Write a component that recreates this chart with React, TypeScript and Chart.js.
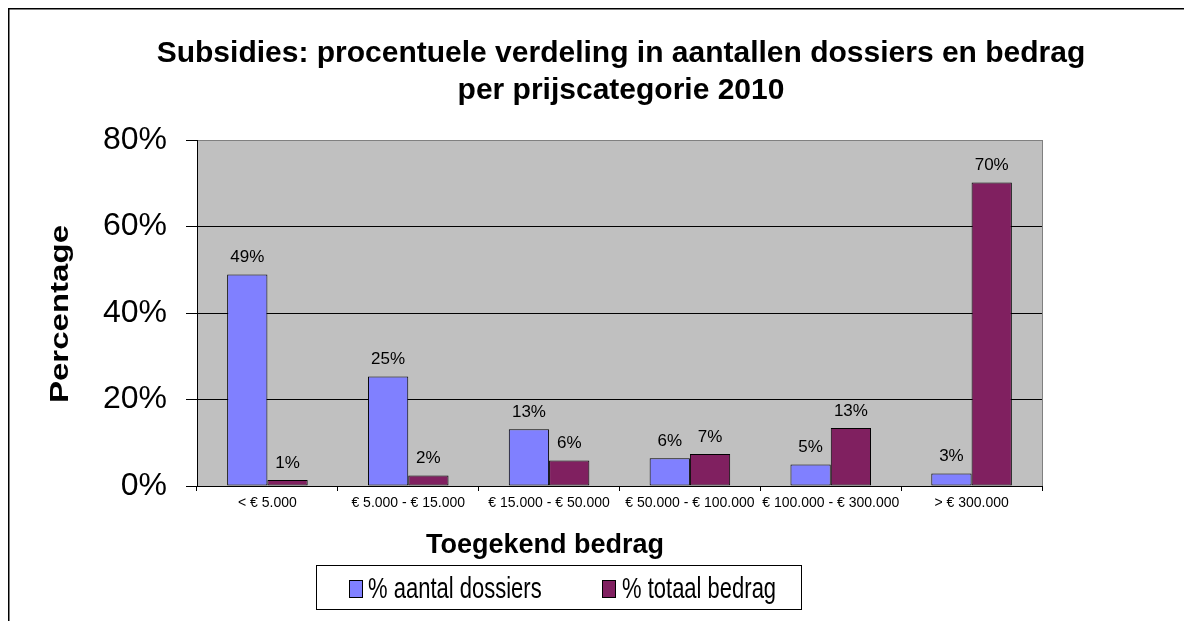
import React, { useEffect, useRef } from "react";
import { Chart, registerables } from "chart.js";

Chart.register(...registerables);

const categories = ["< € 5.000", "€ 5.000 - € 15.000", "€ 15.000 - € 50.000", "€ 50.000 - € 100.000", "€ 100.000 - € 300.000", "> € 300.000"];
const aantalDossiers = [48.9, 25.3, 13.1, 6.4, 5.0, 2.9];
const totaalBedrag = [1.4, 2.4, 5.9, 7.4, 13.4, 70.2];
const seriesNames = ["% aantal dossiers", "% totaal bedrag"];
const titleLines = ["Subsidies: procentuele verdeling in aantallen dossiers en bedrag", "per prijscategorie 2010"];
const xTitle = "Toegekend bedrag";
const yTitle = "Percentage";

const FONT = "'Liberation Sans', Arial, sans-serif";
const BLUE = "#8080FF";
const PURPLE = "#802060";

const decorPlugin = {
  id: "decor",
  beforeDraw(chart: any) {
    const { ctx, chartArea: a } = chart;
    ctx.save();
    ctx.fillStyle = "#fff";
    ctx.fillRect(0, 0, chart.width, chart.height);
    ctx.strokeStyle = "#000";
    ctx.lineWidth = 1.5;
    ctx.beginPath();
    ctx.moveTo(0.75, chart.height);
    ctx.lineTo(0.75, 0.75);
    ctx.lineTo(chart.width, 0.75);
    ctx.stroke();
    ctx.fillStyle = "#C0C0C0";
    ctx.fillRect(a.left, a.top, a.right - a.left, a.bottom - a.top);
    ctx.strokeStyle = "#808080";
    ctx.lineWidth = 1;
    ctx.strokeRect(a.left + 0.5, a.top + 0.5, a.right - a.left, a.bottom - a.top);
    ctx.restore();
  },
  afterDatasetsDraw(chart: any) {
    const { ctx } = chart;
    ctx.save();
    ctx.fillStyle = "#000";
    ctx.font = `17px ${FONT}`;
    ctx.textAlign = "center";
    ctx.textBaseline = "middle";
    chart.data.datasets.forEach((ds: any, i: number) => {
      const meta = chart.getDatasetMeta(i);
      meta.data.forEach((bar: any, j: number) => {
        ctx.fillText(Math.round(ds.data[j]) + "%", bar.x, bar.y - 17);
      });
    });
    ctx.restore();
  },
  afterDraw(chart: any) {
    const { ctx } = chart;
    ctx.save();
    ctx.fillStyle = "#000";
    ctx.font = `bold 30px ${FONT}`;
    ctx.textAlign = "center";
    ctx.textBaseline = "middle";
    ctx.fillText(titleLines[0], 613, 46);
    ctx.fillText(titleLines[1], 613, 83);
    ctx.font = `bold 27px ${FONT}`;
    ctx.textBaseline = "alphabetic";
    ctx.save();
    ctx.translate(537, 545);
    ctx.scale(1, 1.05);
    ctx.fillText(xTitle, 0, 0);
    ctx.restore();
    ctx.save();
    ctx.translate(60, 306);
    ctx.rotate(-Math.PI / 2);
    ctx.scale(1.27, 1);
    ctx.font = `bold 26px ${FONT}`;
    ctx.textAlign = "center";
    ctx.textBaseline = "alphabetic";
    ctx.fillText(yTitle, 0, 0);
    ctx.restore();
    ctx.fillStyle = "#fff";
    ctx.fillRect(308, 557, 485, 44);
    ctx.strokeStyle = "#000";
    ctx.lineWidth = 1;
    ctx.strokeRect(308.5, 557.5, 485, 44);
    const keys = [
      { x: 341, tx: 360, color: BLUE, name: seriesNames[0] },
      { x: 594, tx: 614, color: PURPLE, name: seriesNames[1] },
    ];
    ctx.font = `22px ${FONT}`;
    ctx.textAlign = "left";
    keys.forEach((k) => {
      ctx.fillStyle = k.color;
      ctx.fillRect(k.x, 572, 13, 17);
      ctx.strokeStyle = "#000";
      ctx.strokeRect(k.x + 0.5, 572.5, 13, 17);
      ctx.fillStyle = "#000";
      ctx.save();
      ctx.translate(k.tx, 590);
      ctx.scale(1, 1.3);
      ctx.fillText(k.name, 0, 0);
      ctx.restore();
    });
    ctx.restore();
  },
};

export default function App() {
  const ref = useRef<HTMLCanvasElement>(null);
  useEffect(() => {
    if (!ref.current) return;
    const chart = new Chart(ref.current, {
      type: "bar",
      data: {
        labels: categories,
        datasets: [
          { label: seriesNames[0], data: aantalDossiers, backgroundColor: BLUE, borderColor: "#000", borderWidth: 1, borderSkipped: false },
          { label: seriesNames[1], data: totaalBedrag, backgroundColor: PURPLE, borderColor: "#000", borderWidth: 1, borderSkipped: false },
        ],
      },
      options: {
        animation: false,
        responsive: false,
        maintainAspectRatio: false,
        layout: { padding: { top: 132, right: 150, left: 0, bottom: 0 } },
        plugins: { legend: { display: false }, title: { display: false }, tooltip: { enabled: false } },
        datasets: { bar: { categoryPercentage: 0.572, barPercentage: 1 } },
        scales: {
          x: {
            afterFit: (s: any) => { s.height = 135; },
            grid: { drawOnChartArea: false, drawTicks: true, tickLength: 5, color: "#000", offset: true },
            border: { display: true, color: "#000", width: 1 },
            ticks: { color: "#000", font: { family: FONT, size: 14 }, padding: 4, autoSkip: false, maxRotation: 0, minRotation: 0 },
          },
          y: {
            min: 0,
            max: 80,
            afterFit: (s: any) => { s.width = 189; },
            grid: {
              color: (c: any) => (c.tick && (c.tick.value === 80 || c.tick.value === 0) ? "rgba(0,0,0,0)" : "#000"),
              tickColor: "#000",
              tickLength: 11,
              lineWidth: 1,
            },
            border: { display: true, color: "#000", width: 1 },
            ticks: { stepSize: 20, color: "#000", font: { family: FONT, size: 32 }, padding: 19, callback: (v: any) => v + "%" },
          },
        },
      },
      plugins: [decorPlugin],
    });
    return () => chart.destroy();
  }, []);
  return (
    <div style={{ width: 1184, height: 613, overflow: "hidden" }}>
      <canvas ref={ref} width={1184} height={613} style={{ display: "block" }} />
    </div>
  );
}
